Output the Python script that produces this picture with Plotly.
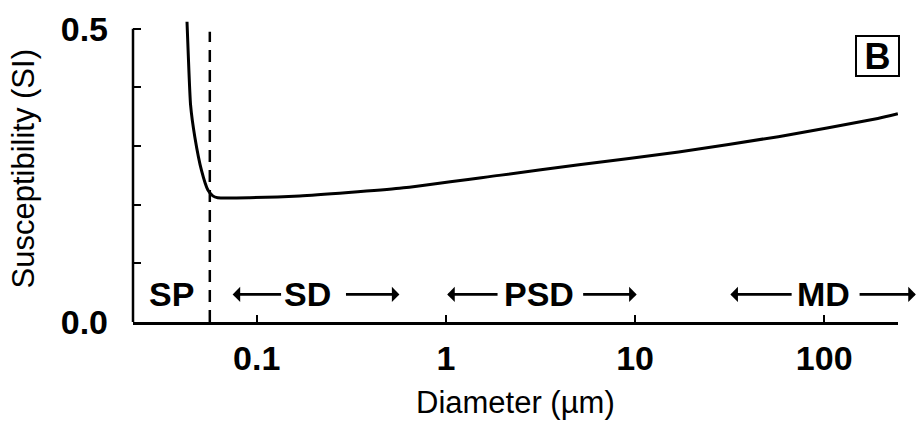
import plotly.graph_objects as go
import math

# ---- data ----
diameter_um = [0.0428, 0.0435, 0.0447, 0.0471, 0.0511, 0.0552, 0.0586, 0.0622,
               0.0918, 0.1686, 0.568, 1.91, 5.05, 17.0, 57.2, 192, 245]
susceptibility = [0.512, 0.453, 0.370, 0.315, 0.258, 0.225, 0.215, 0.212,
                  0.212, 0.215, 0.228, 0.250, 0.268, 0.290, 0.316, 0.347, 0.355]

sp_boundary_um = 0.0565
sp_boundary_top = 0.495

x_tick_vals = [0.1, 1, 10, 100]
x_tick_text = ["0.1", "1", "10", "100"]
y_tick_vals = [0.0, 0.1, 0.2, 0.3, 0.4, 0.5]
y_tick_text = ["0.0", "", "", "", "", "0.5"]

# domain labels: (text, centre diameter, left arrow tip, left arrow tail, right arrow tail, right arrow tip)
domain_labels = [
    ("SD", 0.186, 0.0746, 0.137, 0.291, 0.568),
    ("PSD", 3.10, 1.016, 1.91, 5.22, 10.2),
    ("MD", 98.6, 31.9, 68.5, 151, 305),
]
sp_label = ("SP", 0.0356)
label_y = 0.047

FONT = "Liberation Sans, Arial, sans-serif"

fig = go.Figure()
fig.add_trace(go.Scatter(
    x=diameter_um, y=susceptibility, mode="lines",
    line=dict(color="black", width=3, shape="spline", smoothing=0.5),
    hoverinfo="skip", showlegend=False))
fig.add_trace(go.Scatter(
    x=[sp_boundary_um, sp_boundary_um], y=[0, sp_boundary_top], mode="lines",
    line=dict(color="black", width=2.5, dash="12px,8px"),
    hoverinfo="skip", showlegend=False))

annotations = []
for text, cx, ltip, ltail, rtail, rtip in domain_labels:
    annotations.append(dict(x=math.log10(cx), y=label_y, xref="x", yref="y",
                            text="<b>%s</b>" % text, showarrow=False,
                            font=dict(family=FONT, size=34, color="black")))
    for tip, tail in ((ltip, ltail), (rtip, rtail)):
        annotations.append(dict(x=math.log10(tip), y=label_y, ax=math.log10(tail), ay=label_y,
                                xref="x", yref="y", axref="x", ayref="y",
                                text="", showarrow=True, arrowhead=1, arrowsize=0.9,
                                arrowwidth=2.8, arrowcolor="black", standoff=0, startstandoff=0))
annotations.append(dict(x=math.log10(sp_label[1]), y=label_y, xref="x", yref="y",
                        text="<b>%s</b>" % sp_label[0], showarrow=False,
                        font=dict(family=FONT, size=34, color="black")))
# panel letter
annotations.append(dict(x=1, y=1, xref="paper", yref="paper", xanchor="right", yanchor="top",
                        xshift=2, yshift=-18, text="<b>B</b>", showarrow=False,
                        font=dict(family=FONT, size=36, color="black"),
                        bordercolor="black", borderwidth=2, borderpad=0,
                        width=41, height=38, bgcolor="white"))
# axis titles
annotations.append(dict(x=0.5, y=0, xref="paper", yref="paper", xanchor="center", yanchor="middle",
                        yshift=-80, text="Diameter (µm)", showarrow=False,
                        font=dict(family=FONT, size=31, color="black")))
annotations.append(dict(x=0, y=0.5, xref="paper", yref="paper", xanchor="center", yanchor="middle",
                        xshift=-110, text="Susceptibility (SI)", textangle=-90, showarrow=False,
                        font=dict(family=FONT, size=31, color="black")))

fig.update_layout(
    width=920, height=426,
    margin=dict(l=133, r=22, t=10, b=104),
    paper_bgcolor="white", plot_bgcolor="white",
    showlegend=False,
    annotations=annotations,
    shapes=[dict(type="line", xref="paper", yref="y", x0=0, x1=0, y0=0, y1=0.5,
                 line=dict(color="black", width=2.5))],
    xaxis=dict(type="log", range=[-1.654, 2.39], showgrid=False, zeroline=False,
               showline=True, linecolor="black", linewidth=2.5,
               ticks="inside", ticklen=7, tickwidth=2, tickcolor="black",
               tickvals=x_tick_vals, ticktext=x_tick_text, ticklabelstandoff=4,
               tickfont=dict(family=FONT, size=34, color="black", weight="bold")),
    yaxis=dict(range=[0, 0.52], showgrid=False, zeroline=False, showline=False,
               ticks="inside", ticklen=8, tickwidth=2, tickcolor="black",
               tickvals=y_tick_vals, ticktext=y_tick_text, ticklabelstandoff=24,
               tickfont=dict(family=FONT, size=34, color="black", weight="bold")),
)

fig.write_html("out.html")
